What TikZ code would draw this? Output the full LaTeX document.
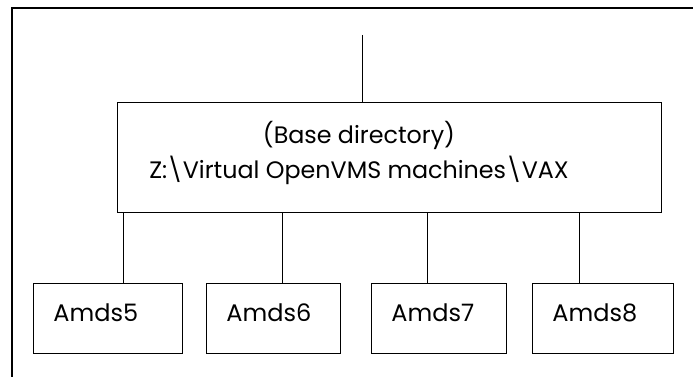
\documentclass[tikz,border=0pt]{standalone}
\usepackage{fontspec}
\setmainfont{Poppins}
\usetikzlibrary{calc}

\tikzset{
  box/.style={draw, line width=0.9pt, inner sep=0pt},
  leaf/.style={draw, line width=0.9pt, anchor=north west, align=left,
    inner xsep=20pt, inner ysep=0pt, text height=38pt, text depth=32pt,
    text width=#1, font=\fontsize{24}{30}\selectfont},
  wire/.style={line width=0.9pt}
}

\begin{document}
\begin{tikzpicture}[x=1pt, y=-1pt]
\useasboundingbox (0,0) rectangle (693,377);
% frame
\draw[line width=1.4pt] (693,8) -- (12,8) -- (12,377);
% base
\node[box, minimum width=544pt, minimum height=110pt] (base) at (389,157) {};
\node[font=\fontsize{23.8}{35}\selectfont, align=center] (basetxt)
  at ([xshift=-30pt, yshift=4pt]base.center)
  {(Base directory)\\Z:\textbackslash Virtual OpenVMS machines\textbackslash VAX};
\coordinate (feed) at (362,35);
\draw[wire] (feed) -- (feed |- base.north);
% machines
\node[leaf=109pt] (m5) at (33,283) {Amds5};
\node[leaf=94pt]  (m6) at (206,283) {Amds6};
\node[leaf=95pt]  (m7) at (371,283) {Amds7};
\node[leaf=101pt] (m8) at (532,283) {Amds8};
\draw[wire] ([xshift=15.5pt]m5.north) -- ([xshift=15.5pt]m5.north |- base.south);
\draw[wire] ([xshift=9pt]m6.north) -- ([xshift=9pt]m6.north |- base.south);
\draw[wire] ([xshift=-11.5pt]m7.north) -- ([xshift=-11.5pt]m7.north |- base.south);
\draw[wire] ([xshift=-23.5pt]m8.north) -- ([xshift=-23.5pt]m8.north |- base.south);
\end{tikzpicture}
\end{document}
